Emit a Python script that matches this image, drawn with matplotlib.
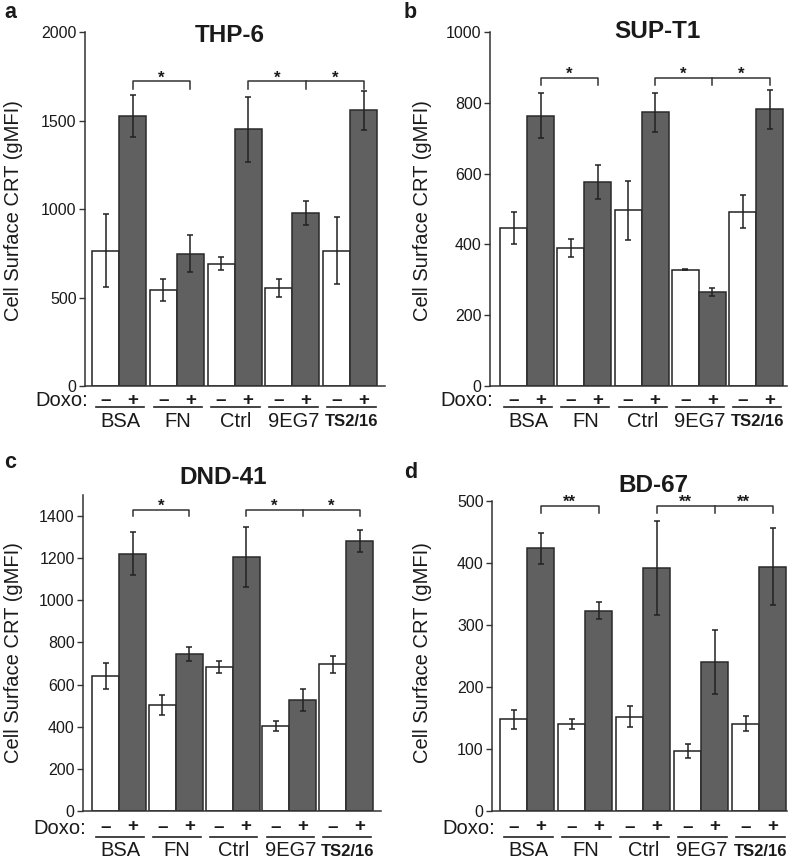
import matplotlib
matplotlib.use("Agg")
import matplotlib.pyplot as plt
import numpy as np
from matplotlib.transforms import ScaledTranslation

plt.rcParams['font.family'] = ['Liberation Sans', 'DejaVu Sans']

groups = ["BSA", "FN", "Ctrl", "9EG7", "TS2/16"]
doxo_labels = ["–", "+"]

titles = ["THP-6", "SUP-T1", "DND-41", "BD-67"]
letters = ["a", "b", "c", "d"]

# values: (Doxo -, Doxo +) per group
thp6_minus = [765, 540, 690, 555, 765]
thp6_minus_err = [205, 62, 36, 52, 190]
thp6_plus = [1525, 748, 1450, 980, 1557]
thp6_plus_err = [118, 104, 185, 68, 108]

supt1_minus = [446, 390, 496, 329, 492]
supt1_minus_err = [45, 25, 83, 2, 47]
supt1_plus = [764, 575, 773, 266, 782]
supt1_plus_err = [63, 48, 55, 12, 55]

dnd41_minus = [640, 502, 684, 404, 697]
dnd41_minus_err = [62, 48, 28, 22, 41]
dnd41_plus = [1222, 745, 1205, 527, 1281]
dnd41_plus_err = [100, 35, 144, 51, 51]

bd67_minus = [148, 140, 152, 97, 141]
bd67_minus_err = [15, 8, 17, 11, 12]
bd67_plus = [424, 323, 392, 240, 394]
bd67_plus_err = [25, 14, 76, 52, 62]

ymaxes = [2000, 1000, 1500, 500]
ysteps = [500, 200, 200, 100]
ytick_max = [2000, 1000, 1400, 500]
bracket_y = [1721, 870, 1431, 492]
bracket_drop = [41, 21, 31, 12]
stars = ["*", "*", "*", "**"]

data = [
    (thp6_minus, thp6_minus_err, thp6_plus, thp6_plus_err),
    (supt1_minus, supt1_minus_err, supt1_plus, supt1_plus_err),
    (dnd41_minus, dnd41_minus_err, dnd41_plus, dnd41_plus_err),
    (bd67_minus, bd67_minus_err, bd67_plus, bd67_plus_err),
]

W, H = 796, 860
fig = plt.figure(figsize=(W / 100, H / 100), dpi=100)

# pixel layout: left, right, y0, ytop, group0 center px, pitch px
layout = [
    (85, 385, 386, 32, 119, 57.8),
    (490, 787, 386, 32, 527, 57.25),
    (83, 381, 811, 495, 119, 56.75),
    (492, 787, 811, 501, 527, 58.0),
]
row_off = [(14, 21, 35), (14, 21, 35), (16, 26, 40), (16, 26, 40)]
title_pos = [(230, 35), (657, 32), (223, 477), (653, 485)]
letter_pos = [(4, 13), (404, 13), (4, 463), (404, 472)]
ylabel_pos = [(14, 211), (422, 211), (14, 653), (422, 653)]

txtc = '#1a1a1a'
dark = '#606060'
px = 72.0 / 100.0

for i in range(4):
    left, right, y0, ytop, c0, pitch = layout[i]
    ax = fig.add_axes([left / W, (H - y0) / H, (right - left) / W, (y0 - ytop) / H])
    mn, mne, pl, ple = data[i]
    x = np.arange(len(groups))
    w = 27.0 / pitch
    ax.bar(x - w / 2, mn, width=w, color='white', edgecolor='#222222', linewidth=1.1, zorder=2)
    ax.bar(x + w / 2, pl, width=w, color=dark, edgecolor='#2a2a2a', linewidth=1.1, zorder=2)
    ax.errorbar(x - w / 2, mn, yerr=mne, fmt='none', ecolor='#222222', elinewidth=1.1,
                capsize=2.5, capthick=1.1, zorder=3)
    ax.errorbar(x + w / 2, pl, yerr=ple, fmt='none', ecolor='#222222', elinewidth=1.1,
                capsize=2.5, capthick=1.1, zorder=3)
    ax.set_xlim((left - c0) / pitch, (right - c0) / pitch)
    ax.set_ylim(0, ymaxes[i])
    ax.set_yticks(np.arange(0, ytick_max[i] + 1, ysteps[i]))
    ax.tick_params(axis='y', direction='out', length=4, width=1, colors='#333333',
                   labelsize=11.5, labelcolor=txtc, pad=2)
    ax.set_xticks([])
    for s in ['top', 'right']:
        ax.spines[s].set_visible(False)
    for s in ['left', 'bottom']:
        ax.spines[s].set_color('#333333')
        ax.spines[s].set_linewidth(1.1)
    ax.patch.set_alpha(0)

    # brackets
    by = bracket_y[i]
    bd = bracket_drop[i]
    xs = x + w / 2
    lkw = dict(color='#333333', lw=1.1, clip_on=False, zorder=4)
    ax.plot([xs[0], xs[0], xs[1], xs[1]], [by - bd, by, by, by - bd], **lkw)
    ax.plot([xs[2], xs[2], xs[4], xs[4]], [by - bd, by, by, by - bd], **lkw)
    ax.plot([xs[3], xs[3]], [by, by - bd], **lkw)
    for a_, b_ in [(0, 1), (2, 3), (3, 4)]:
        ax.annotate(stars[i], xy=((xs[a_] + xs[b_]) / 2, by), xytext=(0, -1 * px),
                    textcoords='offset points', ha='center', va='baseline',
                    fontsize=12, fontweight='bold', color=txtc, annotation_clip=False)

    # Doxo row
    d_off, u_off, l_off = row_off[i]
    for g in range(len(groups)):
        for k, lab in enumerate(doxo_labels):
            xx = g + (k - 0.5) * w
            ax.annotate(lab, xy=(xx, 0), xytext=(0, -d_off * px), textcoords='offset points',
                        ha='center', va='center', fontsize=13.5, fontweight='bold',
                        color=txtc, annotation_clip=False)
        off = ScaledTranslation(0, -u_off / 100.0, fig.dpi_scale_trans)
        ax.plot([g - 0.40, g + 0.44], [0, 0], color='#222222', lw=1.2,
                transform=ax.transData + off, clip_on=False)
        bold = groups[g] == "TS2/16"
        ax.annotate(groups[g], xy=(g + 0.02, 0), xytext=(0, -l_off * px), textcoords='offset points',
                    ha='center', va='center', fontsize=12 if bold else 14.5,
                    fontweight='bold' if bold else 'normal', color=txtc,
                    annotation_clip=False)
    ax.annotate("Doxo:", xy=(left + 3, H - (y0 + d_off + 1)), xycoords='figure pixels',
                ha='right', va='center', fontsize=14.5, color=txtc, annotation_clip=False)

    tx, ty = title_pos[i]
    fig.text(tx / W, 1 - ty / H, titles[i], ha='center', va='center', fontsize=17.5,
             fontweight='bold', color=txtc)
    lx, ly = letter_pos[i]
    fig.text(lx / W, 1 - ly / H, letters[i], ha='left', va='center', fontsize=15.5,
             fontweight='bold', color=txtc)
    yx, yy = ylabel_pos[i]
    fig.text(yx / W, 1 - yy / H, "Cell Surface CRT (gMFI)", rotation=90, ha='center',
             va='center', fontsize=14.5, color=txtc)

fig.savefig("out.png", dpi=100)
